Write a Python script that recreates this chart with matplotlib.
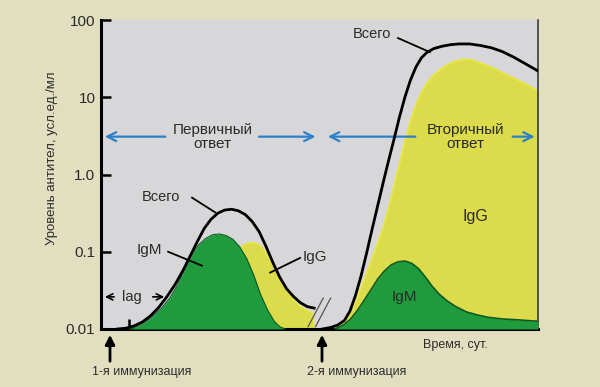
import matplotlib.pyplot as plt
import numpy as np

# time in tick units (one tick = one step), levels as log10 of units/ml
t_total1 = [0.6, 0.9, 1.2, 1.5, 1.8, 2.1, 2.4, 2.7, 3.0, 3.25, 3.5, 3.75, 4.0, 4.25, 4.5,
            4.75, 5.0, 5.25, 5.5, 5.75, 6.0, 6.25, 6.5, 6.75, 7.0, 7.25, 7.5, 7.75]
lg_total1 = [-2.0, -1.99, -1.96, -1.91, -1.83, -1.72, -1.58, -1.42, -1.23, -1.05, -0.87,
             -0.70, -0.58, -0.50, -0.46, -0.45, -0.47, -0.52, -0.61, -0.74, -0.93, -1.14,
             -1.33, -1.48, -1.58, -1.66, -1.71, -1.73]

t_igm1 = [1.0, 1.3, 1.6, 1.9, 2.2, 2.5, 2.8, 3.05, 3.3, 3.55, 3.8, 4.05, 4.3, 4.55, 4.8,
          5.05, 5.3, 5.55, 5.8, 6.05, 6.3, 6.5, 6.7]
lg_igm1 = [-2.0, -1.97, -1.91, -1.83, -1.73, -1.60, -1.42, -1.22, -1.04, -0.91, -0.83,
           -0.78, -0.77, -0.79, -0.84, -0.94, -1.09, -1.30, -1.55, -1.75, -1.90, -1.97, -2.0]

t_igg1 = [3.6, 4.0, 4.4, 4.8, 5.05, 5.25, 5.45, 5.65, 5.85, 6.05, 6.25, 6.5, 6.75, 7.0,
          7.25, 7.5, 7.7, 7.75]
lg_igg1 = [-2.0, -1.8, -1.45, -1.1, -0.95, -0.9, -0.88, -0.89, -0.94, -1.04, -1.17, -1.34,
           -1.5, -1.63, -1.71, -1.76, -1.79, -2.0]

t_total2 = [8.05, 8.35, 8.6, 8.85, 9.05, 9.25, 9.45, 9.65, 9.85, 10.05, 10.25, 10.45, 10.65,
            10.85, 11.05, 11.25, 11.45, 11.65, 11.85, 12.1, 12.4, 12.7, 13.0, 13.4, 13.8,
            14.2, 14.6, 15.0, 15.4, 15.89]
lg_total2 = [-2.0, -1.98, -1.95, -1.89, -1.77, -1.57, -1.32, -1.03, -0.72, -0.42, -0.12,
             0.17, 0.45, 0.74, 1.0, 1.22, 1.39, 1.51, 1.58, 1.63, 1.66, 1.68, 1.69, 1.69,
             1.67, 1.64, 1.59, 1.52, 1.44, 1.34]

t_igg2 = [8.4, 8.7, 9.0, 9.3, 9.55, 9.8, 10.05, 10.25, 10.45, 10.65, 10.85, 11.05, 11.25,
          11.45, 11.65, 11.85, 12.05, 12.3, 12.6, 12.9, 13.2, 13.5, 13.9, 14.3, 14.7, 15.1,
          15.5, 15.89]
lg_igg2 = [-2.0, -1.95, -1.83, -1.61, -1.38, -1.14, -0.9, -0.7, -0.45, -0.16, 0.13, 0.43,
           0.69, 0.9, 1.06, 1.18, 1.27, 1.35, 1.42, 1.47, 1.49, 1.48, 1.43, 1.37, 1.3, 1.23,
           1.16, 1.08]

t_igm2 = [8.5, 8.8, 9.05, 9.3, 9.55, 9.8, 10.05, 10.3, 10.55, 10.8, 11.05, 11.3, 11.55,
          11.8, 12.05, 12.3, 12.6, 12.9, 13.3, 13.7, 14.1, 14.6, 15.1, 15.89]
lg_igm2 = [-2.0, -1.95, -1.88, -1.77, -1.64, -1.5, -1.36, -1.25, -1.17, -1.13, -1.12, -1.15,
           -1.22, -1.33, -1.45, -1.55, -1.64, -1.71, -1.78, -1.82, -1.85, -1.87, -1.88, -1.90]

ticks_x = [1, 2, 3, 4, 5, 6, 7, 9, 10, 11, 12, 13, 14, 15]
ticks_y = [0.01, 0.1, 1.0, 10, 100]
tick_labels_y = ['0.01', '0.1', '1.0', '10', '100']

GREEN = '#1f9a3d'
GREEN_EDGE = '#0e5a22'
YELLOW = '#dcdb4c'
YELLOW_EDGE = '#e9e838'
BLUE = '#2c80c8'
TXT = '#2b2b2b'

plt.rcParams['font.family'] = ['Liberation Sans', 'DejaVu Sans']

fig = plt.figure(figsize=(6, 3.87), dpi=100, facecolor='#e2dfc0')
ax = fig.add_axes([101 / 600, 1 - 329 / 387, 437 / 600, 309 / 387])
ax.set_facecolor('#d7d7d9')
ax.set_yscale('log')
ax.set_ylim(0.01, 100)
ax.set_xlim(0, 15.89)


def lv(a):
    return np.power(10.0, np.array(a))


base = 0.01
ax.fill_between(t_igg1, base, lv(lg_igg1), color=YELLOW, lw=0, zorder=2)
ax.plot(t_igg1, lv(lg_igg1), color=YELLOW_EDGE, lw=1, zorder=2.1)
ax.fill_between(t_igm1, base, lv(lg_igm1), color=GREEN, lw=0, zorder=3)
ax.plot(t_igm1, lv(lg_igm1), color=GREEN_EDGE, lw=0.8, zorder=3.1)
ax.plot(t_total1, lv(lg_total1), color='black', lw=2, zorder=5)

ax.fill_between(t_igg2, base, lv(lg_igg2), color=YELLOW, lw=0, zorder=2)
ax.plot(t_igg2, lv(lg_igg2), color=YELLOW_EDGE, lw=1.2, zorder=2.1)
ax.fill_between(t_igm2, base, lv(lg_igm2), color=GREEN, lw=0, zorder=3)
ax.plot(t_igm2, lv(lg_igm2), color=GREEN_EDGE, lw=1.2, zorder=3.1)
ax.plot(t_total2, lv(lg_total2), color='black', lw=2, zorder=5)

# axis break marks
for x0 in (7.53, 7.8):
    ax.plot([x0, x0 + 0.55], [10 ** -1.97, 10 ** -1.6], color='#555555', lw=0.9, zorder=6)

ax.spines['top'].set_visible(False)
ax.spines['left'].set_linewidth(2.2)
ax.spines['bottom'].set_linewidth(2.2)
ax.spines['right'].set_linewidth(1.2)
ax.spines['right'].set_color('#3a3a3a')

ax.set_xticks(ticks_x)
ax.set_xticklabels([])
ax.tick_params(axis='x', direction='in', length=7, width=1.8, color='black')
ax.set_yticks(ticks_y)
ax.set_yticklabels(tick_labels_y)
ax.minorticks_off()
ax.tick_params(axis='y', direction='in', length=7.5, width=1.8, pad=4,
               labelsize=11, labelcolor=TXT)

# blue response arrows
ya = 10 ** 0.49
blue_arrow = dict(arrowstyle='->', color=BLUE, lw=1.6, mutation_scale=16)
ax.annotate('', xy=(0.04, ya), xytext=(2.44, ya), arrowprops=blue_arrow)
ax.annotate('', xy=(7.9, ya), xytext=(5.64, ya), arrowprops=blue_arrow)
ax.annotate('', xy=(8.15, ya), xytext=(11.53, ya), arrowprops=blue_arrow)
ax.annotate('', xy=(15.87, ya), xytext=(14.87, ya), arrowprops=blue_arrow)
ax.text(4.07, ya, 'Первичный\nответ', ha='center', va='center', fontsize=11,
        color=TXT, linespacing=1.0)
ax.text(13.24, ya, 'Вторичный\nответ', ha='center', va='center', fontsize=11,
        color=TXT, linespacing=1.0)


# curve labels with leader lines
def label(x, y, s, line=None, size=10.5):
    ax.text(x, 10 ** y, s, ha='center', va='center', fontsize=size, color=TXT, zorder=7)
    if line:
        (x1, y1), (x2, y2) = line
        ax.plot([x1, x2], [10 ** y1, 10 ** y2], color='black', lw=1.3, zorder=7)


label(2.18, -0.286, 'Всего', ((3.31, -0.30), (4.15, -0.49)), 10.5)
label(1.76, -0.974, 'IgM', ((2.44, -1.0), (3.67, -1.18)), 11)
label(7.78, -1.065, 'IgG', ((7.24, -1.08), (6.15, -1.27)), 11)
label(9.85, 1.818, 'Всего', ((10.8, 1.766), (11.96, 1.584)), 10.5)
label(13.6, -0.545, 'IgG', None, 11.5)
label(11.02, -1.584, 'IgM', None, 11)

# lag
yl = 10 ** -1.584
ax.text(1.11, yl, 'lag', ha='center', va='center', fontsize=10.5, color=TXT)
lag_arrow = dict(arrowstyle='->', color='black', lw=1.2, mutation_scale=11)
ax.annotate('', xy=(0.04, yl), xytext=(0.58, yl), arrowprops=lag_arrow)
ax.annotate('', xy=(2.4, yl), xytext=(1.78, yl), arrowprops=lag_arrow)

# texts below the axis
fig.text(455 / 600, 1 - 345 / 387, 'Время, сут.', ha='center', va='center',
         fontsize=9, color=TXT)
fig.text(142 / 600, 1 - 372 / 387, '1-я иммунизация', ha='center', va='center',
         fontsize=9, color=TXT)
fig.text(357 / 600, 1 - 372 / 387, '2-я иммунизация', ha='center', va='center',
         fontsize=9, color=TXT)
imm_arrow = dict(arrowstyle='-|>', color='black', lw=2, mutation_scale=14)
for xp in (110, 322):
    ax.annotate('', xy=(xp / 600, 1 - 332 / 387), xytext=(xp / 600, 1 - 364 / 387),
                xycoords='figure fraction', textcoords='figure fraction',
                arrowprops=imm_arrow)

fig.text(52 / 600, 1 - 158 / 387, 'Уровень антител, усл.ед./мл', rotation=90,
         ha='center', va='center', fontsize=9.5, color=TXT)

fig.savefig('out.png', dpi=100, facecolor=fig.get_facecolor())
